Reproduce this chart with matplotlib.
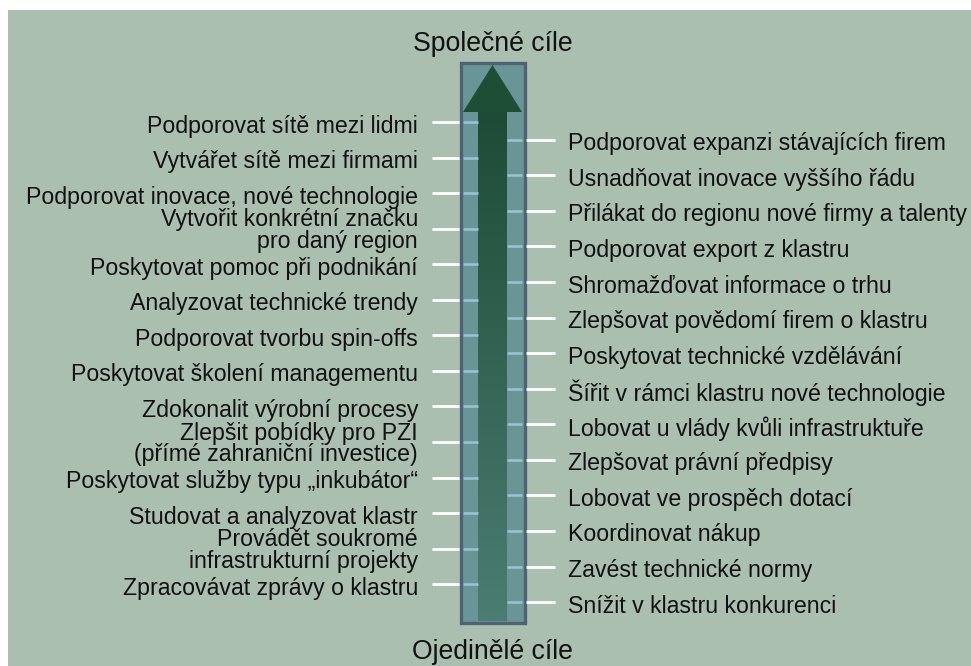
import numpy as np
import matplotlib
matplotlib.use("Agg")
import matplotlib.pyplot as plt
from matplotlib.patches import Rectangle, Polygon
from matplotlib.colors import LinearSegmentedColormap

plt.rcParams['font.family'] = ['Liberation Sans', 'DejaVu Sans']

# ---- data ----
top_label = "Společné cíle"
bottom_label = "Ojedinělé cíle"
left_goals = [
    "Podporovat sítě mezi lidmi",
    "Vytvářet sítě mezi firmami",
    "Podporovat inovace, nové technologie",
    "Vytvořit konkrétní značku\npro daný region",
    "Poskytovat pomoc při podnikání",
    "Analyzovat technické trendy",
    "Podporovat tvorbu spin-offs",
    "Poskytovat školení managementu",
    "Zdokonalit výrobní procesy",
    "Zlepšit pobídky pro PZI\n(přímé zahraniční investice)",
    "Poskytovat služby typu „inkubátor“",
    "Studovat a analyzovat klastr",
    "Provádět soukromé\ninfrastrukturní projekty",
    "Zpracovávat zprávy o klastru",
]
right_goals = [
    "Podporovat expanzi stávajících firem",
    "Usnadňovat inovace vyššího řádu",
    "Přilákat do regionu nové firmy a talenty",
    "Podporovat export z klastru",
    "Shromažďovat informace o trhu",
    "Zlepšovat povědomí firem o klastru",
    "Poskytovat technické vzdělávání",
    "Šířit v rámci klastru nové technologie",
    "Lobovat u vlády kvůli infrastruktuře",
    "Zlepšovat právní předpisy",
    "Lobovat ve prospěch dotací",
    "Koordinovat nákup",
    "Zavést technické normy",
    "Snížit v klastru konkurenci",
]

# ---- layout ----
W, H = 971, 666
fig = plt.figure(figsize=(W / 100, H / 100), dpi=100)
ax = fig.add_axes([0, 0, 1, 1])
ax.set_xlim(0, W)
ax.set_ylim(H, 0)
ax.axis('off')

bg = '#aabfb0'
ax.add_patch(Rectangle((8, 10), W - 8, H - 10, facecolor=bg, edgecolor='none', zorder=0))

# column geometry
col_l, col_r, col_t, col_b = 460.5, 524.5, 62.5, 622.5
ax.add_patch(Rectangle((col_l, col_t), col_r - col_l, col_b - col_t,
                       facecolor='#6a9596', edgecolor='#4e6273', linewidth=2.4, zorder=2))

# arrow shaft with gradient
cmap = LinearSegmentedColormap.from_list('shaft', ['#1d4b35', '#4b7d72'])
grad = np.linspace(0, 1, 256).reshape(-1, 1)
ax.imshow(grad, cmap=cmap, extent=(478, 507, 621, 111), origin='upper',
          aspect='auto', zorder=3)
# arrow head
ax.add_patch(Polygon([(463, 112), (492.5, 65), (522, 112)], closed=True,
                     facecolor='#1f4e37', edgecolor='none', zorder=4))

# ticks / labels
step = 17.78
y0 = 122
fs = 16.7
for i, lab in enumerate(left_goals):
    y = y0 + 2 * i * step
    ax.plot([432, 459], [y, y], color='white', lw=2, solid_capstyle='butt', zorder=5)
    ax.plot([463, 478], [y, y], color='#9cc3d6', lw=1.8, solid_capstyle='butt', zorder=5)
    dy = 4 if '\n' not in lab else 2
    ax.text(418, y + dy, lab, ha='right', va='center', fontsize=fs, color='#111111',
            linespacing=0.92, multialignment='right', zorder=6)

for i, lab in enumerate(right_goals):
    y = y0 + (2 * i + 1) * step
    ax.plot([526, 555], [y, y], color='white', lw=2, solid_capstyle='butt', zorder=5)
    ax.plot([507, 522], [y, y], color='#9cc3d6', lw=1.8, solid_capstyle='butt', zorder=5)
    ax.text(568, y + 4, lab, ha='left', va='center', fontsize=fs, color='#111111', zorder=6)

ax.text(492.5, 44, top_label, ha='center', va='center', fontsize=19.2, color='#111111', zorder=6)
ax.text(492.5, 652, bottom_label, ha='center', va='center', fontsize=19.2, color='#111111', zorder=6)

fig.savefig('out.png', dpi=100, facecolor='white')
